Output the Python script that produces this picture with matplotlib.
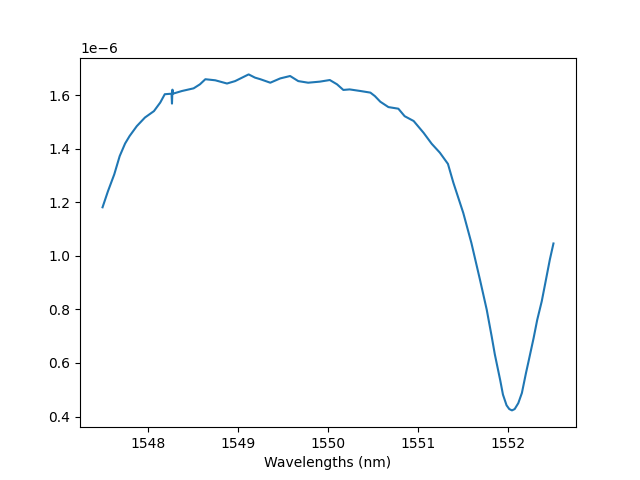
import numpy as np
import matplotlib
matplotlib.use("Agg")
import matplotlib.pyplot as plt

# transmission spectrum (wavelength in nm, power in W)
wavelengths = [
    1547.50, 1547.56, 1547.63, 1547.69, 1547.75, 1547.80, 1547.88, 1547.97,
    1548.07, 1548.14, 1548.19, 1548.265, 1548.27, 1548.275, 1548.28, 1548.38,
    1548.51, 1548.58, 1548.64, 1548.75, 1548.88, 1548.97, 1549.12, 1549.19,
    1549.25, 1549.36, 1549.47, 1549.58, 1549.67, 1549.78, 1549.91, 1550.02,
    1550.10, 1550.17, 1550.24, 1550.36, 1550.47, 1550.52, 1550.58, 1550.67,
    1550.78, 1550.85, 1550.95, 1551.06, 1551.15, 1551.24, 1551.33, 1551.39,
    1551.50, 1551.59, 1551.685, 1551.76, 1551.815, 1551.85, 1551.91, 1551.94,
    1551.98, 1552.01, 1552.04, 1552.07, 1552.11, 1552.15, 1552.195, 1552.22,
    1552.28, 1552.32, 1552.37, 1552.41, 1552.46, 1552.50,
]
power = [
    1.181, 1.241, 1.304, 1.372, 1.419, 1.447, 1.484, 1.516,
    1.540, 1.572, 1.603, 1.605, 1.568, 1.620, 1.605, 1.615,
    1.625, 1.640, 1.659, 1.655, 1.643, 1.652, 1.677, 1.665,
    1.659, 1.646, 1.662, 1.671, 1.652, 1.646, 1.650, 1.656,
    1.640, 1.619, 1.621, 1.615, 1.609, 1.596, 1.575, 1.555,
    1.549, 1.521, 1.503, 1.459, 1.418, 1.385, 1.343, 1.273,
    1.160, 1.048, 0.911, 0.799, 0.699, 0.632, 0.535, 0.482,
    0.442, 0.428, 0.423, 0.428, 0.450, 0.488, 0.562, 0.600,
    0.693, 0.761, 0.830, 0.899, 0.986, 1.046,
]

x = np.array(wavelengths)
y = np.array(power) * 1e-6

fig, ax = plt.subplots(figsize=(6.4, 4.8), dpi=100)
ax.plot(x, y)
ax.set_xlabel('Wavelengths (nm)')
fig.savefig('out.png')
